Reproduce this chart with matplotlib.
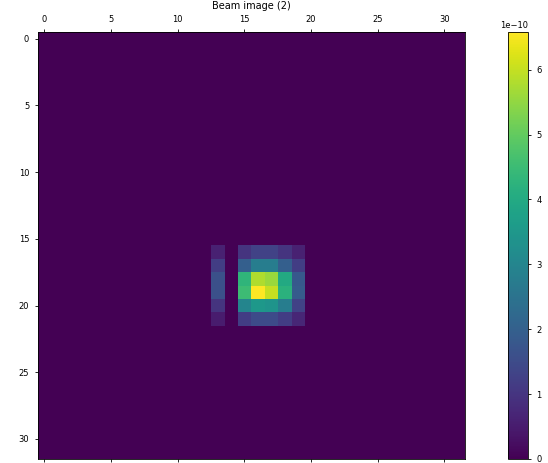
import numpy as np
import matplotlib
matplotlib.use("Agg")
import matplotlib.pyplot as plt

# beam image is 32x32, nonzero only in a small patch
size = 32
row0, col0 = 16, 13   # top-left corner of the patch
# rows 16..21, cols 13..19 (units of 1e-10)
patch = [
    [0.6, 0.0, 1.0, 1.3, 1.3, 1.0, 0.6],
    [1.2, 0.0, 2.0, 2.8, 2.8, 2.0, 1.2],
    [1.6, 0.0, 4.3, 5.8, 5.6, 4.0, 1.8],
    [1.6, 0.0, 4.5, 6.58, 6.0, 4.2, 1.9],
    [1.0, 0.0, 3.0, 3.5, 3.4, 2.8, 1.3],
    [0.5, 0.0, 1.2, 1.5, 1.5, 1.2, 0.7],
]
scale = 1e-10

###############################################################################

image = np.zeros((size, size))
block = np.array(patch) * scale
image[row0:row0 + block.shape[0], col0:col0 + block.shape[1]] = block

fig = plt.figure(figsize=(5.48, 4.63), dpi=100)
ax = fig.add_axes([37 / 548, 1 - 459 / 463, 428 / 548, 427 / 463])
cax = fig.add_axes([508 / 548, 1 - 459 / 463, 20 / 548, 427 / 463])

im = ax.matshow(image, cmap='viridis', interpolation='nearest')
ax.set_title('Beam image (2)', fontsize=7, pad=4)
ax.tick_params(labelsize=6, length=2.5, width=0.6)
for side in ax.spines.values():
    side.set_linewidth(0.6)

cbar = fig.colorbar(im, cax=cax)
cbar.ax.tick_params(labelsize=6, length=2.5, width=0.6)
cbar.ax.yaxis.get_offset_text().set_fontsize(6)
cbar.outline.set_linewidth(0.6)

fig.savefig('out.png', dpi=100)
